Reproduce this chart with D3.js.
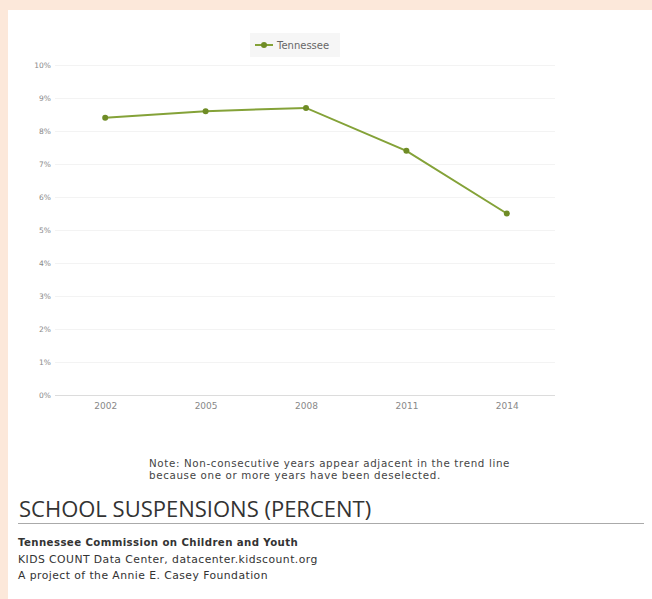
<!DOCTYPE html>
<html>
<head>
<meta charset="utf-8">
<script src="https://cdn.jsdelivr.net/npm/d3@7"></script>
<style>
  html, body { margin: 0; padding: 0; background: #fce8da; }
  svg { display: block; }
</style>
</head>
<body>
<div id="chart"></div>
<script>
// ---------------------------------------------------------
// DATA
// ---------------------------------------------------------
const years = ["2002", "2005", "2008", "2011", "2014"];
const tennessee = [8.4, 8.6, 8.7, 7.4, 5.5];
const yTicks = [0, 1, 2, 3, 4, 5, 6, 7, 8, 9, 10];
const seriesName = "Tennessee";
const noteLines = [
  "Note: Non-consecutive years appear adjacent in the trend line",
  "because one or more years have been deselected."
];
const title = "SCHOOL SUSPENSIONS (PERCENT)";
const sourceLines = [
  "Tennessee Commission on Children and Youth",
  "KIDS COUNT Data Center, datacenter.kidscount.org",
  "A project of the Annie E. Casey Foundation"
];

// ---------------------------------------------------------
// SVG
// ---------------------------------------------------------
const width = 652, height = 599;
const green = "#84a238";
const dotColor = "#6f8c26";

const svg = d3.select("#chart").append("svg")
    .attr("width", width)
    .attr("height", height);

svg.append("rect")
    .attr("x", 8).attr("y", 10)
    .attr("width", width - 8).attr("height", height - 10)
    .attr("fill", "#fff");

// plot area
const plot = { left: 55, right: 557, top: 65, bottom: 395 };

const x = d3.scalePoint()
    .domain(years)
    .range([plot.left, plot.right])
    .padding(0.5);

const y = d3.scaleLinear()
    .domain([0, 10])
    .range([plot.bottom, plot.top]);

// gridlines
svg.append("g")
  .selectAll("line")
  .data(yTicks)
  .join("line")
    .attr("x1", plot.left)
    .attr("x2", plot.right - 2)
    .attr("y1", d => y(d) + 0.5)
    .attr("y2", d => y(d) + 0.5)
    .attr("stroke", d => d === 0 ? "#dcdcdc" : "#f3f3f3")
    .attr("stroke-width", 1);

// y axis labels
const yAxis = svg.append("g")
    .attr("transform", `translate(${plot.left - 4},0)`)
    .call(d3.axisLeft(y).tickValues(yTicks).tickFormat(d => d + "%").tickSize(0).tickPadding(0));
yAxis.select(".domain").remove();
yAxis.selectAll("text")
    .attr("font-family", "DejaVu Sans, sans-serif")
    .attr("font-size", 7.5)
    .attr("fill", "#888");

// x axis labels
const xAxis = svg.append("g")
    .attr("transform", `translate(0,${plot.bottom + 8})`)
    .call(d3.axisBottom(x).tickSize(0).tickPadding(0));
xAxis.select(".domain").remove();
xAxis.selectAll("text")
    .attr("font-family", "DejaVu Sans, sans-serif")
    .attr("font-size", 9)
    .attr("fill", "#888");

// line
const line = d3.line()
    .x((d, i) => x(years[i]))
    .y(d => y(d));

svg.append("path")
    .datum(tennessee)
    .attr("d", line)
    .attr("fill", "none")
    .attr("stroke", green)
    .attr("stroke-width", 2);

svg.append("g")
  .selectAll("circle")
  .data(tennessee)
  .join("circle")
    .attr("cx", (d, i) => x(years[i]))
    .attr("cy", d => y(d))
    .attr("r", 3)
    .attr("fill", dotColor);

// legend
const legend = svg.append("g").attr("transform", "translate(250,33)");
legend.append("rect")
    .attr("width", 90).attr("height", 24)
    .attr("fill", "#f6f6f6");
legend.append("line")
    .attr("x1", 5).attr("x2", 23)
    .attr("y1", 12).attr("y2", 12)
    .attr("stroke", green).attr("stroke-width", 2);
legend.append("circle")
    .attr("cx", 14).attr("cy", 12).attr("r", 3)
    .attr("fill", dotColor);
legend.append("text")
    .attr("x", 27).attr("y", 15.5)
    .attr("font-family", "DejaVu Sans, sans-serif")
    .attr("font-size", 10)
    .attr("fill", "#666")
    .text(seriesName);

// note
svg.append("g")
  .selectAll("text")
  .data(noteLines)
  .join("text")
    .attr("x", 149)
    .attr("y", (d, i) => 467 + i * 12)
    .attr("font-family", "DejaVu Sans, sans-serif")
    .attr("font-size", 10.3)
    .attr("letter-spacing", 0.65)
    .attr("fill", "#444")
    .text(d => d);

// title
svg.append("text")
    .attr("x", 19).attr("y", 517)
    .attr("font-family", "Open Sans, sans-serif")
    .attr("font-size", 22)
    .attr("fill", "#333")
    .text(title);

svg.append("line")
    .attr("x1", 18).attr("x2", 644)
    .attr("y1", 523.5).attr("y2", 523.5)
    .attr("stroke", "#aaa")
    .attr("stroke-width", 1);

// source
svg.append("g")
  .selectAll("text")
  .data(sourceLines)
  .join("text")
    .attr("x", 18)
    .attr("y", (d, i) => 546 + i * 16.5)
    .attr("font-family", "DejaVu Sans, sans-serif")
    .attr("font-size", (d, i) => i === 0 ? 10.2 : 10.8)
    .attr("letter-spacing", (d, i) => i === 0 ? 0.4 : 0.45)
    .attr("font-weight", (d, i) => i === 0 ? 700 : 400)
    .attr("fill", "#333")
    .text(d => d);
</script>
</body>
</html>
